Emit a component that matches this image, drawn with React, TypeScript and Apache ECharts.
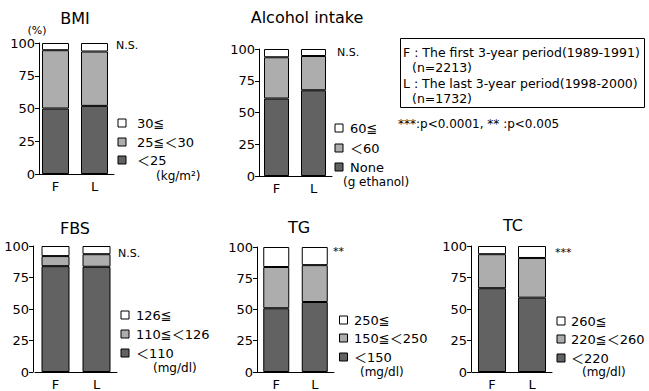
import React, { useEffect, useRef } from "react";
import * as echarts from "echarts";

const categories = ["F", "L"];
const yTicks = [0, 25, 50, 75, 100];

const bmiUnder25 = [50, 52];
const bmi25to30 = [44.5, 41.5];
const bmiOver30 = [5.5, 6.5];

const alcoholNone = [61, 67.5];
const alcoholUnder60 = [32.5, 27];
const alcoholOver60 = [6.5, 5.5];

const fbsUnder110 = [84, 83.5];
const fbs110to126 = [8, 10];
const fbsOver126 = [8, 6.5];

const tgUnder150 = [51, 56];
const tg150to250 = [33, 29.5];
const tgOver250 = [16, 14.5];

const tcUnder220 = [66.5, 59];
const tc220to260 = [27, 31.5];
const tcOver260 = [6.5, 9.5];

const panelTitles = ["BMI", "Alcohol intake", "FBS", "TG", "TC"];
const significance = ["N.S.", "N.S.", "N.S.", "**", "***"];
const legendLabels = [
  ["30≦", "25≦＜30", "＜25", "(kg/m²)"],
  ["60≦", "＜60", "None", "(g ethanol)"],
  ["126≦", "110≦＜126", "＜110", "(mg/dl)"],
  ["250≦", "150≦＜250", "＜150", "(mg/dl)"],
  ["260≦", "220≦＜260", "＜220", "(mg/dl)"],
];
const keyLines = [
  "F : The first 3-year period(1989-1991)",
  "(n=2213)",
  "L : The last 3-year period(1998-2000)",
  "(n=1732)",
];
const pNote = "***:p<0.0001, ** :p<0.005";

const panelData = [
  [bmiUnder25, bmi25to30, bmiOver30],
  [alcoholNone, alcoholUnder60, alcoholOver60],
  [fbsUnder110, fbs110to126, fbsOver126],
  [tgUnder150, tg150to250, tgOver250],
  [tcUnder220, tc220to260, tcOver260],
];

const FONT = "'DejaVu Sans', 'Noto Sans CJK JP', sans-serif";
const DARK = "#626262";
const LIGHT = "#adadad";
const WHITE = "#ffffff";

// layout
const grids = [
  { left: 36, top: 43, width: 78, height: 131, offset: -3, barWidth: 27 },
  { left: 258, top: 49, width: 74, height: 127, offset: -1, barWidth: 25 },
  { left: 35, top: 246, width: 82, height: 128, offset: 2, barWidth: 28 },
  { left: 257, top: 247, width: 77, height: 127, offset: 0, barWidth: 26 },
  { left: 472, top: 246, width: 80, height: 128, offset: 1, barWidth: 28 },
];
const titlePos = [
  [75, 18],
  [307, 17],
  [75, 228],
  [299, 227],
  [513, 225],
];
const sigPos = [
  [116, 45],
  [337, 52],
  [118, 253],
  [333, 251],
  [555, 252],
];
const legendLayout = [
  { sq: 122, tx: 137, ys: [123, 142, 160], unitX: 156, unitY: 176 },
  { sq: 339, tx: 350, ys: [128, 148, 167], unitX: 343, unitY: 182 },
  { sq: 125, tx: 136, ys: [315, 334, 353], unitX: 153, unitY: 368 },
  { sq: 343.5, tx: 354, ys: [320, 338, 357], unitX: 360, unitY: 372 },
  { sq: 561, tx: 571, ys: [321, 339, 358], unitX: 582, unitY: 372 },
];

export default function App() {
  const ref = useRef<HTMLDivElement>(null);
  useEffect(() => {
    if (!ref.current) return;
    const chart = echarts.init(ref.current, null, { renderer: "svg" });
    const fills = [DARK, LIGHT, WHITE];

    const series: any[] = [];
    panelData.forEach((groups, gi) => {
      groups.forEach((vals, si) => {
        series.push({
          type: "bar",
          xAxisIndex: gi,
          yAxisIndex: gi,
          stack: "p" + gi,
          barWidth: grids[gi].barWidth,
          data: vals,
          itemStyle: { color: fills[si], borderColor: "#000", borderWidth: 1 },
          emphasis: { disabled: true },
        });
      });
    });

    const graphic: any[] = [];
    panelTitles.forEach((t, i) => {
      graphic.push({
        type: "text",
        x: titlePos[i][0],
        y: titlePos[i][1],
        style: { text: t, fontSize: 16, fontFamily: FONT, fill: "#000", align: "center", verticalAlign: "middle" },
      });
      graphic.push({
        type: "text",
        x: sigPos[i][0],
        y: sigPos[i][1],
        style: { text: significance[i], fontSize: 11, fontFamily: FONT, fill: "#000", align: "left", verticalAlign: "middle" },
      });
      const L = legendLayout[i];
      const sqFills = [WHITE, LIGHT, DARK];
      L.ys.forEach((y, k) => {
        graphic.push({
          type: "rect",
          shape: { x: L.sq - 4, y: y - 4, width: 8, height: 8 },
          style: { fill: sqFills[k], stroke: "#000", lineWidth: 1 },
        });
        graphic.push({
          type: "text",
          x: L.tx,
          y: y,
          style: { text: legendLabels[i][k], fontSize: 13, fontFamily: FONT, fill: "#000", align: "left", verticalAlign: "middle" },
        });
      });
      graphic.push({
        type: "text",
        x: L.unitX,
        y: L.unitY,
        style: { text: legendLabels[i][3], fontSize: 12, fontFamily: FONT, fill: "#000", align: "left", verticalAlign: "middle" },
      });
    });
    graphic.push({
      type: "text",
      x: 37,
      y: 30,
      style: { text: "(%)", fontSize: 11, fontFamily: FONT, fill: "#000", align: "center", verticalAlign: "middle" },
    });
    graphic.push({
      type: "rect",
      shape: { x: 400.5, y: 38.5, width: 244, height: 69 },
      style: { fill: "none", stroke: "#000", lineWidth: 1 },
    });
    const keyX = [403, 412, 403, 412];
    const keyY = [52, 67, 83, 98];
    keyLines.forEach((t, i) => {
      graphic.push({
        type: "text",
        x: keyX[i],
        y: keyY[i],
        style: { text: t, fontSize: 12.5, fontFamily: FONT, fill: "#000", align: "left", verticalAlign: "middle" },
      });
    });
    graphic.push({
      type: "text",
      x: 398,
      y: 124,
      style: { text: pNote, fontSize: 12, fontFamily: FONT, fill: "#000", align: "left", verticalAlign: "middle" },
    });

    chart.setOption({
      animation: false,
      grid: grids.map((g) => ({ left: g.left, top: g.top, width: g.width, height: g.height })),
      xAxis: grids.map((g, i) => ({
        type: "category",
        gridIndex: i,
        data: categories,
        axisLine: { lineStyle: { color: "#000", width: 1 } },
        axisTick: { show: false },
        axisLabel: { color: "#000", fontSize: 13, fontFamily: FONT, margin: 6 },
      })),
      yAxis: grids.map((g, i) => ({
        type: "value",
        gridIndex: i,
        min: yTicks[0],
        max: yTicks[yTicks.length - 1],
        interval: 25,
        offset: g.offset,
        axisLine: { show: true, lineStyle: { color: "#000", width: 1 } },
        axisTick: { show: true, length: 4, lineStyle: { color: "#000" } },
        axisLabel: { color: "#000", fontSize: 13, fontFamily: FONT, margin: 4 },
        splitLine: { show: false },
      })),
      series,
      graphic,
    });
    return () => chart.dispose();
  }, []);
  return (
    <div
      ref={ref}
      style={{ position: "fixed", left: 0, top: 0, width: 649, height: 391, background: "#fff" }}
    />
  );
}
